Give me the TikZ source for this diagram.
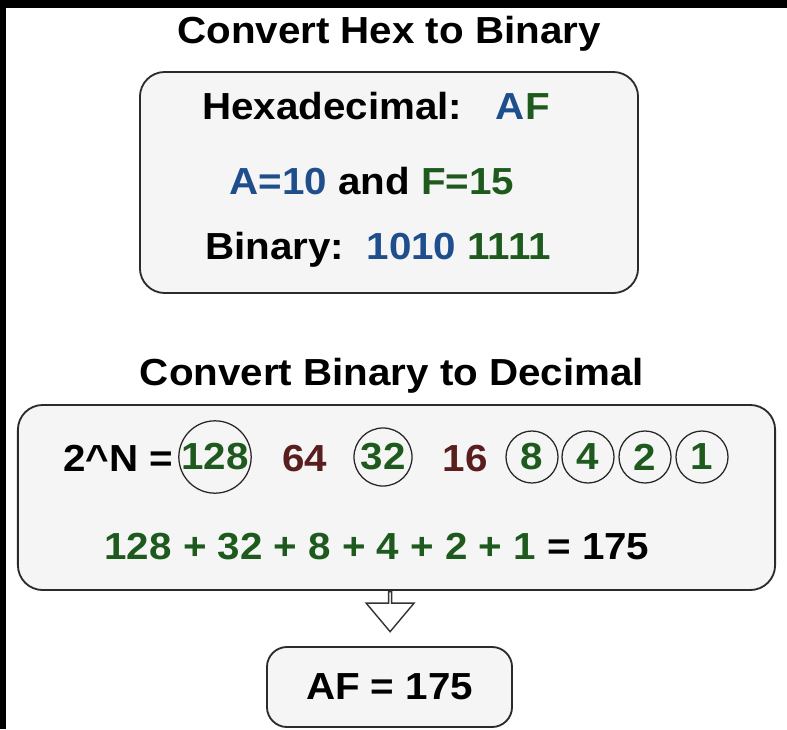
\documentclass[tikz,border=0pt]{standalone}
\usepackage{fontspec}
\setmainfont{Liberation Sans}[FakeStretch=1.07]
\usetikzlibrary{shapes.arrows, positioning}
\definecolor{hexblue}{HTML}{1F4E8C}
\definecolor{hexgreen}{HTML}{1E5A1E}
\definecolor{hexred}{HTML}{5A1E1E}
\definecolor{panelfill}{HTML}{F5F5F5}
\definecolor{panelline}{HTML}{2B2B2B}
\tikzset{
  % --- Text ------------------------------------------------
  txt/.style={font=\bfseries\fontsize{26.8}{31}\selectfont, inner sep=0pt,
    anchor=base},
  % --- Boxes -----------------------------------------------
  panel/.style={draw=panelline, fill=panelfill, rounded corners=0.62cm,
    line width=1.3pt},
  bit/.style={draw=black!85, circle, inner sep=0pt, line width=0.9pt,
    text=hexgreen, font=\bfseries\fontsize{26.8}{31}\selectfont,
    minimum size=1.3cm},
  downarrow/.style={single arrow, draw=black!80, fill=white, line width=1pt,
    shape border rotate=270, minimum width=1.2cm, minimum height=1cm,
    single arrow head extend=0.275cm, single arrow tip angle=80,
    inner sep=0pt}
}
\begin{document}
\begin{tikzpicture}[x=0.025cm, y=-0.025cm]

  \fill[white] (0,0) rectangle (787,729);
  \fill[black] (0,0) rectangle (787,8);
  \fill[black] (0,0) rectangle (6,729);
  \useasboundingbox (0,0) rectangle (787,729);

  % --- Hex to binary ---
  \node[txt] (hextitle) at (389,44) {Convert Hex to Binary};
  \node[panel, minimum width=12.45cm, minimum height=5.525cm] (hexbox)
    at (389,182.5) {};
  \node[txt] (hexline) at (376,119)
    {Hexadecimal:~~~{\color{hexblue}A}{\color{hexgreen}F}};
  \node[txt] (valline) at (372,194)
    {{\color{hexblue}A=10} and {\color{hexgreen}F=15}};
  \node[txt] (binline) at (378,259)
    {Binary:~~{\color{hexblue}1010} {\color{hexgreen}1111}};

  % --- Binary to decimal ---
  \node[txt] (dectitle) at (392,385) {Convert Binary to Decimal};
  \node[panel, minimum width=18.925cm, minimum height=4.625cm] (sumbox)
    at (396.5,497.5) {};
  \node[txt] (powlabel) at (118,471) {2\textasciicircum N =};
  \node[bit, minimum size=1.8cm] (b128) at (215,457) {128};
  \node[txt, text=hexred] (b64) at (305,471) {64};
  \node[bit, minimum size=1.45cm] (b32) at (383,457) {32};
  \node[txt, text=hexred] (b16) at (465,471) {16};
  \foreach \v/\x in {8/532, 4/588, 2/645, 1/702}
    \node[bit] (b\v) at (\x,457) {\v};
  \node[txt, text=hexgreen] (sumline) at (377,559)
    {128 + 32 + 8 + 4 + 2 + 1 {\color{black}= 175}};

  % --- Result ---
  \node[downarrow, anchor=tail] (convarrow) at ([xshift=-0.16cm]sumbox.south) {};
  \node[panel, rounded corners=0.5cm, minimum width=6.125cm,
    minimum height=2cm, font=\bfseries\fontsize{26.8}{31}\selectfont]
    (resbox) at (389.5,687) {AF = 175};

\end{tikzpicture}
\end{document}
